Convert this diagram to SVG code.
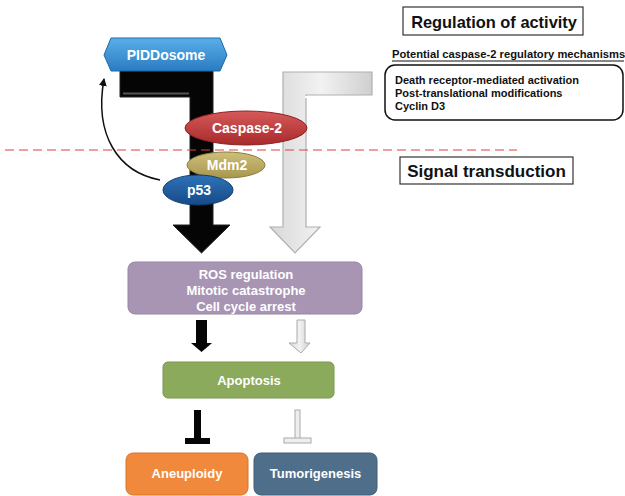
<svg xmlns="http://www.w3.org/2000/svg" width="625" height="496" viewBox="0 0 625 496">
<style>
text{font-family:"Liberation Sans",Arial,sans-serif;font-weight:bold}
.wt{fill:#fff;font-size:13px;text-anchor:middle}
.el{font-size:14px}
.bk{fill:#111}
.mech{font-size:11px}
</style>
<defs>
<linearGradient id="gBlue" x1="0" y1="0" x2="0" y2="1"><stop offset="0" stop-color="#5aaee8"/><stop offset="1" stop-color="#2a7cc2"/></linearGradient>
<linearGradient id="gRed" x1="0" y1="0" x2="0" y2="1"><stop offset="0" stop-color="#d65a5a"/><stop offset="1" stop-color="#a82a2c"/></linearGradient>
<linearGradient id="gOl" x1="0" y1="0" x2="0" y2="1"><stop offset="0" stop-color="#cdbf7a"/><stop offset="1" stop-color="#a8974e"/></linearGradient>
<linearGradient id="gP53" x1="0" y1="0" x2="0" y2="1"><stop offset="0" stop-color="#2f72b8"/><stop offset="1" stop-color="#154a88"/></linearGradient>
<linearGradient id="gGray" x1="0" y1="0" x2="1" y2="0"><stop offset="0" stop-color="#d8d8d8"/><stop offset="0.5" stop-color="#f2f2f2"/><stop offset="1" stop-color="#cfcfcf"/></linearGradient>
<marker id="ah" markerWidth="8" markerHeight="8" refX="7" refY="4" orient="auto" markerUnits="userSpaceOnUse"><path d="M0,0 L8,4 L0,8 Z" fill="#111"/></marker>
</defs>
<rect width="625" height="496" fill="#fff"/>

<g id="connectors">
<path id="black-bent" d="M120,70 L213,70 L213,225 L230,225 L201.5,253 L173,225 L190,225 L190,97 L120,97 Z" fill="#050505" stroke="#222" stroke-width="1"/>
<path d="M123,93.5 L189,93.5" stroke="#555" stroke-width="2"/>
<path id="gray-bent" d="M372,72 L283,72 L283,227 L270,227 L295,253 L320,227 L306,227 L306,95 L372,95 Z" fill="url(#gGray)" stroke="#b0b0b0" stroke-width="1.2"/>
<path d="M305,97 L370,97" stroke="#fff" stroke-width="2"/>
<path id="feedback" d="M160,180 C118,172 94,135 104,79" fill="none" stroke="#111" stroke-width="1.5" marker-end="url(#ah)"/>
<line x1="5" y1="150" x2="517" y2="150" stroke="#e04040" stroke-width="1.2" stroke-dasharray="9,5"/>
<path id="arr-black-small" d="M196,320 L207,320 L207,343 L212,343 L201.5,352 L191,343 L196,343 Z" fill="#050505"/>
<path id="arr-gray-small" d="M297,320 L305,320 L305,343 L310,343 L301,353 L289,343 L297,343 Z" fill="url(#gGray)" stroke="#aaa" stroke-width="1"/>
<g id="inhib-black"><rect x="194" y="410" width="7" height="31" fill="#050505"/><rect x="185" y="438" width="25" height="6" fill="#050505"/></g>
<g id="inhib-gray"><rect x="295" y="410" width="5" height="31" fill="#eee" stroke="#aaa"/><rect x="284" y="438" width="27" height="5" fill="#eee" stroke="#aaa"/></g>
</g>

<g id="piddosome">
<path d="M111,38 L220,38 L227,55 L220,71 L111,71 L104,55 Z" fill="url(#gBlue)" stroke="#1e6aa8" stroke-width="1"/>
<text class="wt el" x="166" y="60">PIDDosome</text>
</g>

<g id="caspase2">
<ellipse cx="246" cy="128" rx="61" ry="17" fill="url(#gRed)" stroke="#8e2224" stroke-width="1"/>
<text class="wt el" x="247" y="133">Caspase-2</text>
</g>

<g id="mdm2">
<ellipse cx="226" cy="165" rx="39" ry="13" fill="url(#gOl)" stroke="#8a7c3e" stroke-width="1"/>
<text class="wt el" x="227" y="170">Mdm2</text>
</g>

<g id="p53">
<ellipse cx="198" cy="190" rx="35" ry="15" fill="url(#gP53)" stroke="#103c70" stroke-width="1"/>
<text class="wt el" x="199" y="195">p53</text>
</g>

<g id="regulation-title">
<rect x="403" y="7" width="180" height="28" fill="#fff" stroke="#333" stroke-width="1.2"/>
<text class="bk" x="494" y="28" font-size="16.4" text-anchor="middle">Regulation of activity</text>
</g>

<g id="mechanisms">
<text class="bk" x="392" y="58" font-size="11.2">Potential caspase-2 regulatory mechanisms</text>
<line x1="392" y1="61" x2="624" y2="61" stroke="#111" stroke-width="1.2"/>
<rect x="385" y="65" width="238" height="55" rx="10" fill="#fff" stroke="#111" stroke-width="1.5"/>
<text class="bk mech" x="395" y="84">Death receptor-mediated activation</text>
<text class="bk mech" x="395" y="97">Post-translational modifications</text>
<text class="bk mech" x="395" y="110">Cyclin D3</text>
</g>

<g id="signal-title">
<rect x="400" y="157" width="173" height="27" fill="#fff" stroke="#333" stroke-width="1.2"/>
<text class="bk" x="486.5" y="177" font-size="17" text-anchor="middle">Signal transduction</text>
</g>

<g id="ros">
<rect x="128" y="262" width="234" height="52" rx="7" fill="#a895b4" stroke="#9585a2" stroke-width="1"/>
<text class="wt" x="246" y="279">ROS regulation</text>
<text class="wt" x="246" y="295">Mitotic catastrophe</text>
<text class="wt" x="246" y="311">Cell cycle arrest</text>
</g>

<g id="apoptosis">
<rect x="163" y="362" width="171" height="36" rx="5" fill="#8caa5c" stroke="#7b9850" stroke-width="1"/>
<text class="wt" x="249" y="385">Apoptosis</text>
</g>

<g id="aneuploidy">
<rect x="126" y="453" width="122" height="42" rx="7" fill="#f0893c" stroke="#d87528" stroke-width="1"/>
<text class="wt" x="187" y="478">Aneuploidy</text>
</g>

<g id="tumorigenesis">
<rect x="254" y="453" width="123" height="42" rx="7" fill="#4f6e8a" stroke="#405c76" stroke-width="1"/>
<text class="wt" x="315.5" y="478">Tumorigenesis</text>
</g>
</svg>
